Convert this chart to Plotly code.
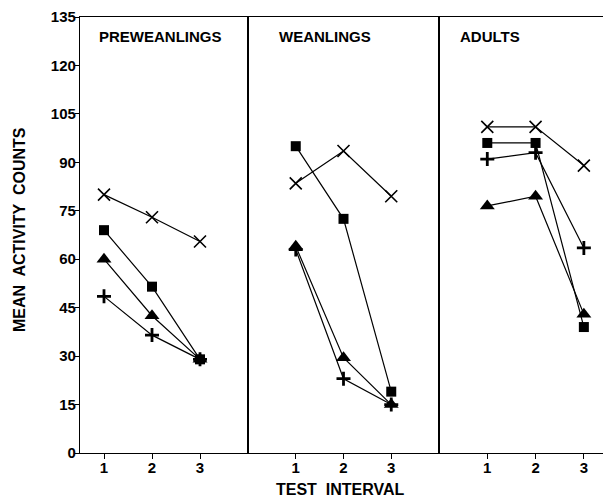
import plotly.graph_objects as go

intervals = [1, 2, 3]
panels = ["PREWEANLINGS", "WEANLINGS", "ADULTS"]

# series values per panel (x-marker, square, triangle, plus)
pre_x = [80, 73, 65.5]
pre_sq = [69, 51.5, 29]
pre_tri = [60, 42.5, 29]
pre_plus = [48.5, 36.5, 29]

wean_x = [83.5, 93.5, 79.5]
wean_sq = [95, 72.5, 19]
wean_tri = [64, 29.5, 15]
wean_plus = [63, 23, 15]

adult_x = [101, 101, 89]
adult_sq = [96, 96, 39]
adult_tri = [76.5, 79.5, 43]
adult_plus = [91, 93, 63.5]

y_ticks = [0, 15, 30, 45, 60, 75, 90, 105, 120, 135]

data = [
    (pre_x, pre_sq, pre_tri, pre_plus),
    (wean_x, wean_sq, wean_tri, wean_plus),
    (adult_x, adult_sq, adult_tri, adult_plus),
]

markers = [
    dict(symbol="x-thin-open", size=12, line=dict(width=1.6, color="black"), color="black"),
    dict(symbol="square", size=10, color="black", line=dict(width=0)),
    dict(symbol="triangle-up", size=13, color="black", line=dict(width=0)),
    dict(symbol="cross-thin-open", size=10, line=dict(width=2.8, color="black"), color="black"),
]

fig = go.Figure()
for p, series in enumerate(data):
    xa = "x" if p == 0 else f"x{p+1}"
    ya = "y" if p == 0 else f"y{p+1}"
    for s, vals in enumerate(series):
        fig.add_trace(go.Scatter(
            x=intervals, y=vals, mode="lines+markers",
            line=dict(color="black", width=1.2),
            marker=markers[s], xaxis=xa, yaxis=ya, showlegend=False,
            cliponaxis=False,
        ))

FONT = "Liberation Sans, Arial, sans-serif"
W = 528.0
H = 436.0
doms = [[0, 168 / W], [168 / W, 359 / W], [359 / W, 1]]
ranges = [[0.5, 4.0], [0, 4], [0, 3.5]]

layout = dict(
    width=603, height=492,
    margin=dict(l=72, r=3, t=9, b=47),
    paper_bgcolor="white", plot_bgcolor="white",
    font=dict(family=FONT, size=15, color="black"),
)
for p in range(3):
    k = "" if p == 0 else str(p + 1)
    layout["xaxis" + k] = dict(
        domain=doms[p], range=ranges[p], tickvals=intervals,
        ticktext=["<b>%d</b>" % v for v in intervals],
        ticks="outside", ticklen=5, tickwidth=1.2, tickcolor="black",
        showline=True, linecolor="black", linewidth=1.2, mirror=True,
        showgrid=False, zeroline=False, anchor="y" + k, automargin=False,
        tickfont=dict(size=15), ticklabelstandoff=-4, fixedrange=True,
    )
    ya = dict(
        range=[0, 135], showline=True, linecolor="black", linewidth=1.2,
        mirror=True, showgrid=False, zeroline=False, automargin=False,
        anchor="x" + k, fixedrange=True,
    )
    if p == 0:
        ya.update(tickvals=y_ticks, ticktext=["<b>%d</b>" % v for v in y_ticks],
                  ticks="outside", ticklen=4, tickwidth=1.2,
                  tickcolor="black", tickfont=dict(size=15), ticklabelstandoff=-4,
                  ticklabeloverflow="allow")
    else:
        ya.update(showticklabels=False, ticks="", matches="y")
    layout["yaxis" + k] = ya

fig.update_layout(**layout)

title_x = [160, 325, 490]
for name, px in zip(panels, title_x):
    fig.add_annotation(
        text="<b>" + name + "</b>", xref="paper", yref="paper",
        x=(px - 80) / W, y=(453 - 37) / H,
        showarrow=False, xanchor="center", yanchor="middle",
        font=dict(size=15, color="black", family=FONT),
    )

fig.add_annotation(
    text="<b>TEST  INTERVAL</b>", xref="paper", yref="paper",
    x=(340.5 - 80) / W, y=(453 - 489) / H,
    showarrow=False, xanchor="center", yanchor="middle",
    font=dict(size=16, color="black", family=FONT),
)
fig.add_annotation(
    text="<b>MEAN  ACTIVITY  COUNTS</b>", xref="paper", yref="paper",
    x=(19 - 80) / W, y=(453 - 230) / H, textangle=-90,
    showarrow=False, xanchor="center", yanchor="middle",
    font=dict(size=16, color="black", family=FONT),
)

fig.write_html("out.html")
